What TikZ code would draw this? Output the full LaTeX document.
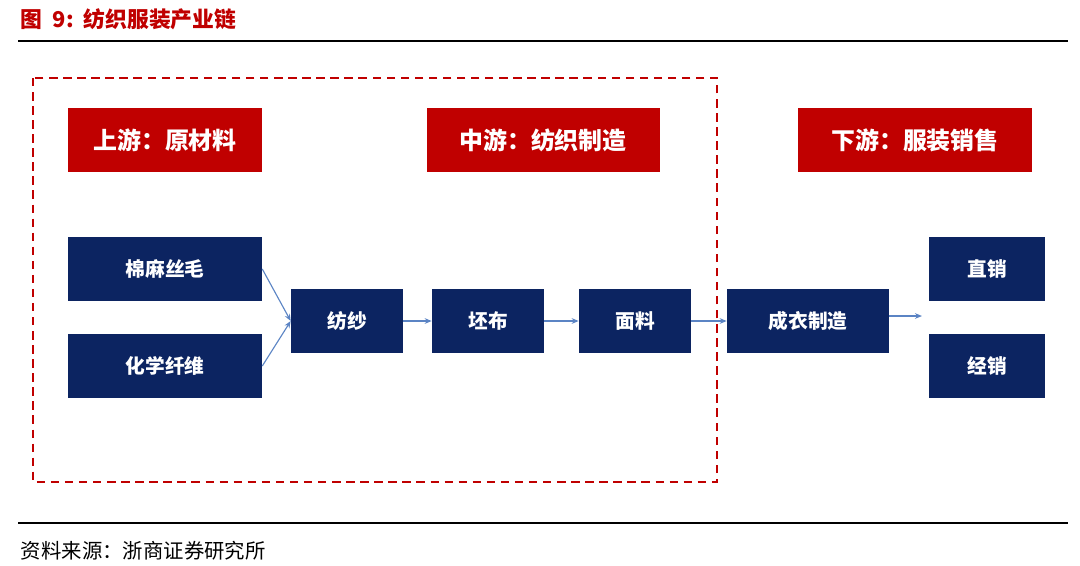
\documentclass[tikz,border=0pt]{standalone}
\usepackage{fontspec}
\setmainfont{Noto Sans CJK SC}
\usetikzlibrary{arrows.meta,positioning}
\definecolor{hdred}{RGB}{192,0,0}
\definecolor{boxblue}{RGB}{12,36,97}
\definecolor{arrblue}{RGB}{91,132,196}
\tikzset{
  stage/.style={fill=hdred, text=white, font=\fontsize{17}{20}\selectfont\bfseries, minimum height=1.6cm, inner sep=0pt},
  item/.style={fill=boxblue, text=white, font=\fontsize{14}{17}\selectfont\bfseries, minimum height=1.6cm, inner sep=0pt},
  flow/.style={arrblue, line width=0.8pt, -{Stealth[length=5pt,width=4pt]}}
}
\begin{document}
\begin{tikzpicture}[x=0.025cm, y=-0.025cm]
\useasboundingbox (0,0) rectangle (1080,566);
% title
\node[anchor=west, text=hdred, font=\fontsize{15.5}{18}\selectfont\bfseries] (title) at (16,19) {图\ \ 9:\ \ 纺织服装产业链};
\draw[line width=1pt] (18,41) -- (1068,41);
% scope of the textile part
\draw[hdred, line width=1.6pt, dash pattern=on 6pt off 4pt] (33,78) rectangle (717,482);
% stages
\node[stage, minimum width=194*0.025cm] (up) at (165,140) {上游：原材料};
\node[stage, minimum width=233*0.025cm] (mid) at (543,140) {中游：纺织制造};
\node[stage, minimum width=234*0.025cm] (down) at (915,140) {下游：服装销售};
% items
\node[item, minimum width=194*0.025cm] (cotton) at (165,269) {棉麻丝毛};
\node[item, minimum width=194*0.025cm] (fiber) at (165,366) {化学纤维};
\node[item, minimum width=112*0.025cm] (yarn) at (347,321) {纺纱};
\node[item, minimum width=112*0.025cm] (grey) at (488,321) {坯布};
\node[item, minimum width=112*0.025cm] (fabric) at (635,321) {面料};
\node[item, minimum width=162*0.025cm] (garment) at (808,321) {成衣制造};
\node[item, minimum width=116*0.025cm] (direct) at (987,269) {直销};
\node[item, minimum width=116*0.025cm] (dealer) at (987,366) {经销};
\coordinate (sales) at (922,316);
% connectors
\draw[flow] (cotton.east) -- (yarn.west);
\draw[flow] (fiber.east) -- (yarn.west);
\draw[flow] (yarn) -- (grey);
\draw[flow] (grey) -- (fabric);
\draw[flow] (fabric) -- (garment);
\draw[flow] (garment.east |- sales) -- (sales);
% source
\draw[line width=1pt] (18,523) -- (1068,523);
\node[anchor=west, font=\fontsize{14.5}{17}\selectfont] (src) at (16,551) {资料来源：浙商证券研究所};
\end{tikzpicture}
\end{document}
